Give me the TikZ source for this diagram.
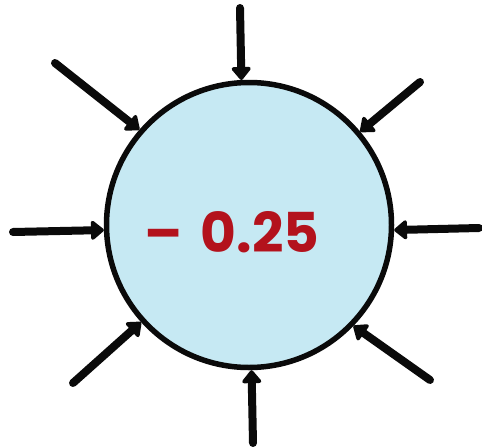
\documentclass[tikz,border=0pt]{standalone}
\usepackage{fontspec}
\setmainfont{Poppins}
\usepackage{tikz}
\usetikzlibrary{arrows.meta,positioning}
\definecolor{ink}{HTML}{0A0A0A}
\definecolor{water}{HTML}{C6E9F3}
\definecolor{charge}{HTML}{B3121C}

\begin{document}
\begin{tikzpicture}[>={Triangle[length=14pt,width=22pt,round]},x=1pt,y=-1pt,
  push/.style={->,ink,line width=8pt,line cap=round}]
 \useasboundingbox (0,0) rectangle (482,447);
 \node[circle,draw=ink,line width=5.5pt,fill=water,minimum size=285pt,inner sep=0pt]
   (blob) at (249,225) {};
 \node[charge,font=\fontsize{55}{55}\selectfont\bfseries] (value) at (232,232)
   {–\,\,0.25};
 \foreach \i/\tx/\ty/\a in {1/240/8/93.5,2/420/82/40.1,3/479/228/358.8,
   4/430/380/316.4,5/253/443/271.5,6/73/383/222.6,7/13/232/182.7,8/55/63/139.1}{
   \coordinate (tail\i) at (\tx,\ty);
   \draw[push] (tail\i) -- (blob.\a);}
\end{tikzpicture}
\end{document}
